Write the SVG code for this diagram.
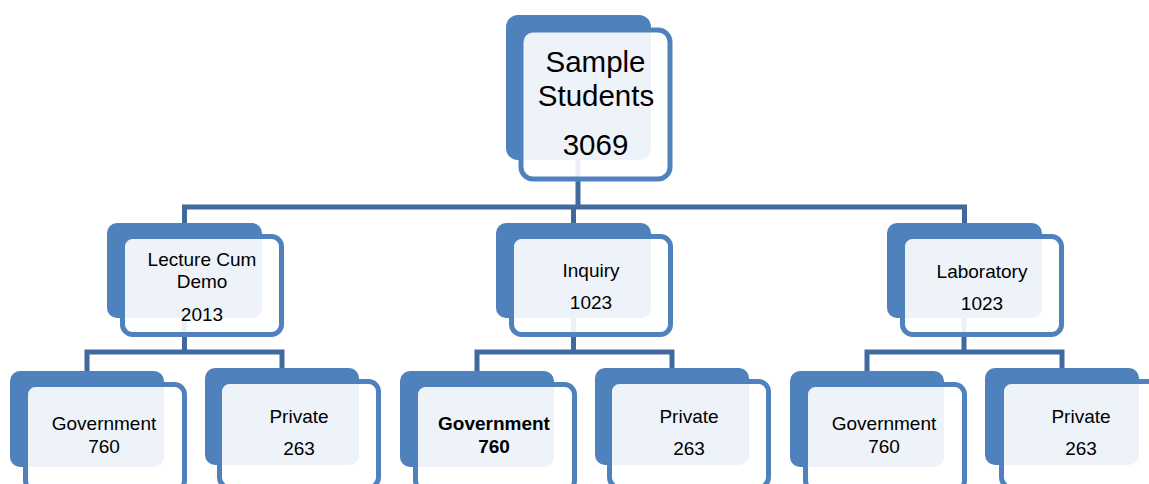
<svg xmlns="http://www.w3.org/2000/svg" width="1149" height="484" viewBox="0 0 1149 484">
<style>
.bk{fill:#4f81bd}
.fr{fill:#ffffff;fill-opacity:0.9;stroke:#4f81bd;stroke-width:5}
.cn{fill:none;stroke:#41699e;stroke-width:5;stroke-linejoin:miter}
text{font-family:"Liberation Sans",Arial,sans-serif;fill:#000;text-anchor:middle}
.t1{font-size:29.5px}
.t2{font-size:19px}
.b{font-weight:bold}
</style>
<rect width="1149" height="484" fill="#ffffff"/>
<g id="connectors">
<path class="cn" d="M578 160V207M184.5 223V207H964.5V223M573.5 207V223"/>
<path class="cn" d="M184.5 318V352M87 371V352H282V368"/>
<path class="cn" d="M573.5 318V352M477 371V352H672V368"/>
<path class="cn" d="M964 318V352M867 371V352H1062V368"/>
</g>
<g id="root">
<rect class="bk" x="506" y="15" width="145" height="145" rx="12"/>
<rect class="fr" x="521" y="30" width="149" height="149" rx="12" stroke-width="6"/>
<text class="t1" x="595.5" y="72">Sample</text>
<text class="t1" x="596" y="106">Students</text>
<text class="t1" x="595.5" y="155">3069</text>
</g>
<g id="lecture">
<rect class="bk" x="107" y="223" width="155" height="95" rx="10"/>
<rect class="fr" x="122.5" y="236.5" width="159" height="98" rx="10"/>
<text class="t2" x="202" y="266">Lecture Cum</text>
<text class="t2" x="202" y="288">Demo</text>
<text class="t2" x="202" y="321">2013</text>
</g>
<g id="inquiry">
<rect class="bk" x="496" y="223" width="155" height="95" rx="10"/>
<rect class="fr" x="511.5" y="236.5" width="159" height="98" rx="10"/>
<text class="t2" x="591" y="277">Inquiry</text>
<text class="t2" x="591" y="309">1023</text>
</g>
<g id="laboratory">
<rect class="bk" x="887" y="223" width="155" height="95" rx="10"/>
<rect class="fr" x="902.5" y="236.5" width="159" height="98" rx="10"/>
<text class="t2" x="982" y="278">Laboratory</text>
<text class="t2" x="982" y="310">1023</text>
</g>
<g id="lecture-government">
<rect class="bk" x="10" y="371" width="154" height="96" rx="10"/>
<rect class="fr" x="25.5" y="384.5" width="159" height="106" rx="10"/>
<text class="t2" x="104" y="430">Government</text>
<text class="t2" x="104" y="453">760</text>
</g>
<g id="lecture-private">
<rect class="bk" x="205" y="368" width="154" height="97" rx="10"/>
<rect class="fr" x="219.5" y="381.5" width="159" height="106" rx="10"/>
<text class="t2" x="299" y="423">Private</text>
<text class="t2" x="299" y="455">263</text>
</g>
<g id="inquiry-government">
<rect class="bk" x="400" y="371" width="154" height="96" rx="10"/>
<rect class="fr" x="415.5" y="384.5" width="159" height="106" rx="10"/>
<text class="t2 b" x="494" y="430">Government</text>
<text class="t2 b" x="494" y="453">760</text>
</g>
<g id="inquiry-private">
<rect class="bk" x="595" y="368" width="154" height="97" rx="10"/>
<rect class="fr" x="609.5" y="381.5" width="159" height="106" rx="10"/>
<text class="t2" x="689" y="423">Private</text>
<text class="t2" x="689" y="455">263</text>
</g>
<g id="laboratory-government">
<rect class="bk" x="790" y="371" width="154" height="96" rx="10"/>
<rect class="fr" x="805.5" y="384.5" width="159" height="106" rx="10"/>
<text class="t2" x="884" y="430">Government</text>
<text class="t2" x="884" y="453">760</text>
</g>
<g id="laboratory-private">
<rect class="bk" x="985" y="368" width="154" height="97" rx="10"/>
<rect class="fr" x="1001.5" y="381.5" width="159" height="106" rx="10"/>
<text class="t2" x="1081" y="423">Private</text>
<text class="t2" x="1081" y="455">263</text>
</g>
</svg>
